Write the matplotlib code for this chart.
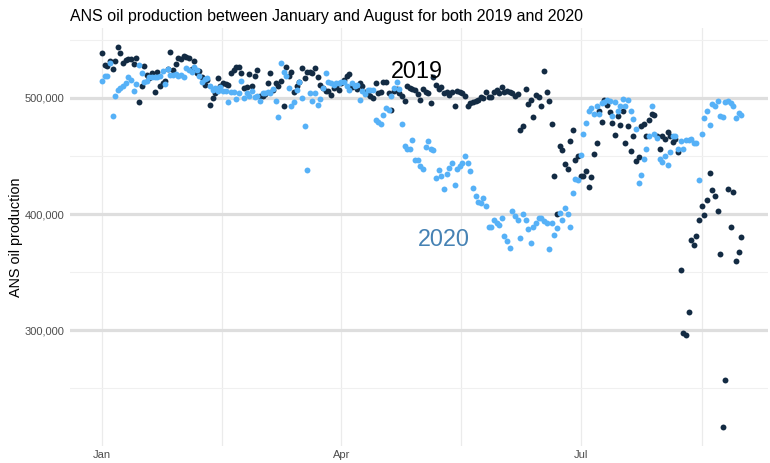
import numpy as np
import pandas as pd
import matplotlib
matplotlib.use("Agg")
import matplotlib.pyplot as plt
from matplotlib.ticker import FuncFormatter

plt.rcParams['font.family'] = ['Liberation Sans', 'DejaVu Sans']

# daily ANS production, thousands of barrels, Jan 1 - Aug 31
prod_2019 = [
    538.4, 528.3, 527.8, 532.1, 525.2, 532.1, 543.5, 538.4, 530.3, 532.6,
    533.2, 533.2, 529.2, 534.1, 496.3, 510.3, 527.5, 519.8, 517.5, 521.2,
    504.9, 522.0, 509.8, 512.6, 514.9, 525.0, 539.8, 524.1, 528.9, 534.6,
    533.5, 536.4, 535.5, 534.1, 524.6, 532.1, 521.2, 523.5, 518.3, 511.2,
    515.5, 494.0, 499.7, 504.0, 517.5, 509.8, 513.2, 512.0, 511.2, 521.8,
    524.1, 526.3, 526.3, 521.8, 508.3, 509.2, 520.6, 510.6, 519.2, 524.1,
    501.2, 501.7, 503.2, 513.2, 521.8, 506.9, 512.6, 510.3, 514.6, 493.2,
    526.9, 518.9, 522.0, 504.9, 510.3, 514.0, 525.5, 516.9, 522.0, 522.6,
    521.2, 525.5, 518.3, 510.9, 508.3, 505.5, 506.3, 502.6, 508.3, 509.8,
    506.9, 513.2, 515.0, 518.9, 520.1, 508.9, 510.6, 507.5, 512.6, 510.3,
    505.0, 503.2, 501.2, 499.7, 512.6, 504.0, 504.6, 514.0, 514.0, 504.0,
    489.2, 505.5, 507.5, 504.0, 501.2, 496.9, 509.8, 508.3, 507.5, 506.9,
    503.5,
    498.3, 507.4, 505.4, 504.0, 495.4, 518.3, 511.1, 507.4, 509.7, 504.0,
    505.4, 502.6, 504.9, 492.6, 506.3, 505.4, 504.0, 501.7, 492.6, 495.4,
    496.0, 496.9, 498.3, 500.6, 499.7, 505.4, 500.6, 500.6, 505.4, 506.9,
    504.0, 508.9, 504.9, 506.3, 504.9, 504.0, 501.7, 503.1, 472.5, 475.4,
    507.7, 494.5, 498.3, 483.4, 502.6, 501.1, 493.1, 523.4, 504.9, 497.7,
    477.7, 432.5, 400.1, 458.2, 455.4, 443.1, 438.8, 463.1, 472.5, 446.8,
    449.6,
    432.5, 432.5, 437.4, 423.3, 431.9, 451.9, 461.1, 488.3, 478.8, 498.3,
    494.0, 487.7, 478.3, 468.2, 484.8, 476.2, 489.1, 461.1, 476.0, 453.9,
    467.4, 445.9, 449.1, 476.0, 477.7, 467.4, 481.1, 486.0, 485.4, 467.4,
    456.2, 466.8, 464.5, 470.5, 466.8, 461.7, 464.5, 453.4, 351.5, 297.4,
    296.0, 315.7, 377.6, 373.2, 381.0, 395.3, 406.7, 399.0, 412.5, 435.3,
    421.0, 415.9, 402.4, 365.2, 216.5, 257.1, 421.6, 388.7, 418.7, 359.5,
    367.2, 380.4,
]

prod_2020 = [
    514.6, 518.9, 518.9, 529.8, 484.0, 501.2, 506.9, 508.3, 510.6, 512.6,
    518.3, 515.5, 505.5, 512.0, 528.3, 521.2, 514.0, 514.6, 518.3, 518.3,
    518.3, 517.8, 519.2, 523.5, 511.8, 524.6, 519.8, 519.8, 520.3, 518.9,
    519.8, 517.8, 526.1, 524.1, 522.6, 526.9, 524.1, 519.2, 514.0, 516.3,
    517.5, 509.8, 506.9, 508.3, 505.5, 508.9, 506.3, 505.5, 496.3, 504.9,
    504.9, 498.9, 504.0, 514.6, 499.7, 504.0, 501.7, 506.3, 500.3, 501.2,
    497.5,
    504.0, 504.0, 504.6, 504.0, 507.5, 497.5, 483.4, 529.8, 522.6, 518.9,
    508.3, 492.6, 496.3, 506.9, 514.0, 499.7, 475.4, 437.7, 504.0, 497.5,
    504.0, 494.0, 498.9, 508.3, 521.2, 514.0, 512.6, 511.2, 512.6, 513.2,
    514.0, 514.0, 509.8, 506.9, 512.6, 509.8, 511.2, 498.3, 505.5, 503.5,
    506.9, 506.9, 506.9, 481.2, 478.9, 477.7, 485.4, 491.2, 489.7, 501.7,
    508.3, 514.0, 507.5, 477.4, 458.3, 456.0, 456.0, 464.0, 446.8, 446.3,
    441.7,
    438.8, 457.7, 462.5, 455.9, 455.4, 431.1, 438.2, 432.5, 421.9, 434.8,
    439.6, 443.9, 425.3, 438.8, 441.6, 443.9, 450.2, 443.9, 437.4, 422.5,
    415.3, 410.2, 409.6, 413.9, 406.7, 389.0, 389.0, 394.7, 392.4, 391.0,
    396.7, 381.0, 376.7, 371.0, 403.0, 398.7, 395.3, 379.5, 400.4, 395.3,
    387.3, 375.3, 389.0, 392.4, 396.7, 396.4, 394.4, 392.4, 369.5, 392.4,
    382.4, 388.1, 401.0, 394.7, 405.3, 400.4, 389.0, 418.2, 430.2, 429.0,
    451.1, 468.8, 478.3, 488.8, 491.1, 486.3, 492.6, 486.0, 495.4, 496.0,
    498.3, 496.9, 484.5, 496.0, 488.8, 493.4, 499.1, 493.4, 498.3, 488.3,
    481.7, 473.1, 426.8, 433.9, 447.6, 455.9, 467.4, 492.6, 469.1, 465.4,
    447.6, 444.5, 450.2, 441.9, 453.1, 467.4, 467.4, 456.2, 463.1, 455.9,
    463.9, 463.4, 464.8, 461.1, 461.1, 429.6, 468.8, 482.5, 488.8, 476.8,
    494.6, 493.1, 497.4, 484.5, 483.4, 496.0, 496.9, 495.4, 493.4, 482.5,
    486.8, 485.4,
]

dates_2019 = pd.date_range("2020-01-01", periods=len(prod_2019), freq="D")
dates_2020 = pd.date_range("2020-01-01", periods=len(prod_2020), freq="D")
y19 = np.array(prod_2019) * 1000
y20 = np.array(prod_2020) * 1000

fig = plt.figure(figsize=(7.7, 4.63), dpi=100)
ax = fig.add_axes([70/770, 17/463, 698/770, 418/463])

ax.scatter(dates_2019, y19, s=18, color="#132B43", linewidths=0, zorder=3)
ax.scatter(dates_2020, y20, s=18, color="#56B1F7", linewidths=0, zorder=3)

start = pd.Timestamp("2020-01-01")
ax.set_xlim(start - pd.Timedelta(days=12.2), start + pd.Timedelta(days=253.2))
ax.set_ylim(200400, 560100)

majors = [pd.Timestamp("2020-01-01"), pd.Timestamp("2020-04-01"), pd.Timestamp("2020-07-01")]
minors = [pd.Timestamp("2020-02-15 12:00"), pd.Timestamp("2020-05-16 12:00"), pd.Timestamp("2020-08-16")]
ax.set_xticks(majors)
ax.set_xticklabels(["Jan", "Apr", "Jul"])
ax.set_xticks(minors, minor=True)
ax.set_yticks([300000, 400000, 500000])
ax.set_yticks([250000, 350000, 450000, 550000], minor=True)
ax.yaxis.set_major_formatter(FuncFormatter(lambda v, p: f"{v:,.0f}"))

ax.grid(True, axis="y", which="major", color="#DEDEDE", linewidth=2.3)
ax.grid(True, axis="y", which="minor", color="#F0F0F0", linewidth=0.8)
ax.grid(True, axis="x", which="both", color="#EBEBEB", linewidth=0.9)
ax.set_axisbelow(True)

ax.tick_params(which="both", length=0)
ax.tick_params(axis="y", labelsize=8, labelcolor="#4D4D4D", pad=4.3)
ax.tick_params(axis="x", labelsize=8, labelcolor="#4D4D4D", pad=3)
for s in ax.spines.values():
    s.set_visible(False)

ax.text(start + pd.Timedelta(days=119.8), 516900, "2019", fontsize=16.8,
        color="black", ha="center", va="baseline")
ax.text(start + pd.Timedelta(days=129.8), 372100, "2020", fontsize=16.8,
        color="#4682B4", ha="center", va="baseline")

fig.text(70/770, 1 - 21/463, "ANS oil production between January and August for both 2019 and 2020",
         fontsize=11.5, ha="left", va="baseline")
fig.text(16/770, 1 - 237/463, "ANS oil production", fontsize=10.4, rotation=90,
         ha="center", va="center")

plt.savefig("out.png", dpi=100)
